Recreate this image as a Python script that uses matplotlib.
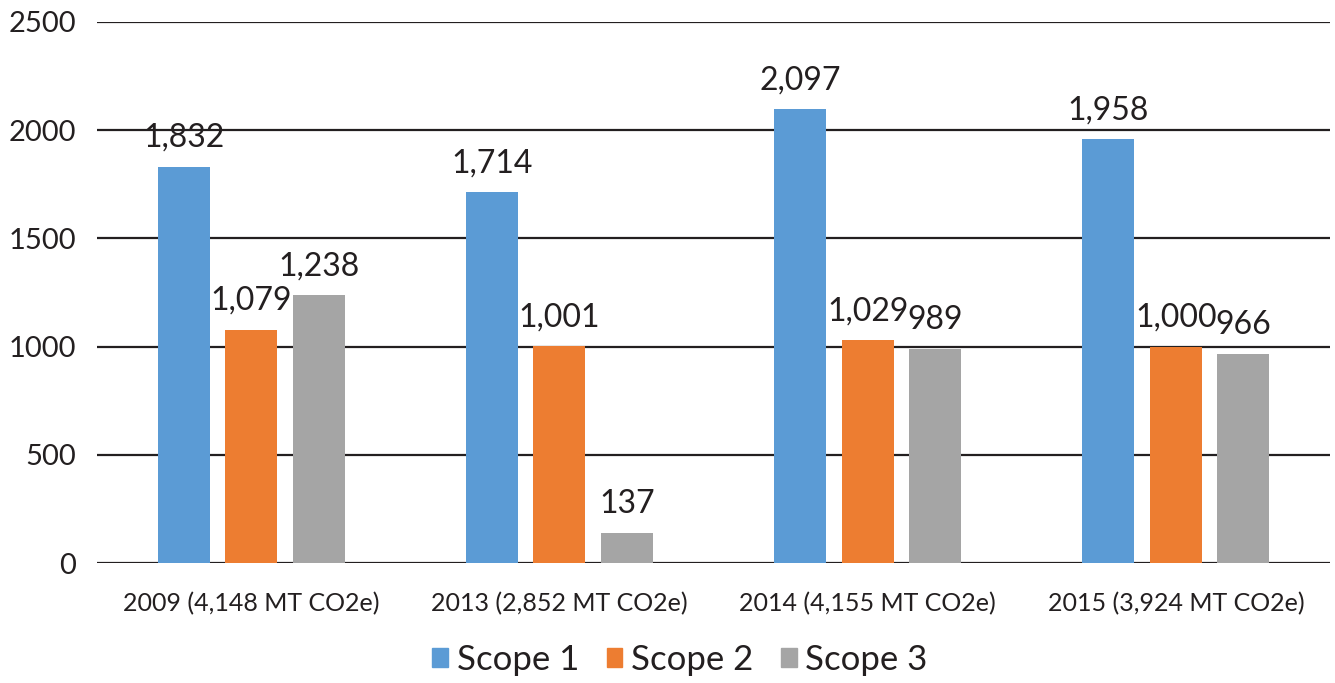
import matplotlib.pyplot as plt
import numpy as np
from matplotlib.patches import Patch

# Emissions by scope for each reporting year
years = ['2009 (4,148 MT CO2e)', '2013 (2,852 MT CO2e)',
         '2014 (4,155 MT CO2e)', '2015 (3,924 MT CO2e)']
scope1 = [1832, 1714, 2097, 1958]
scope2 = [1079, 1001, 1029, 1000]
scope3 = [1238, 137, 989, 966]

series = [('Scope 1', scope1, '#5b9bd5'),
          ('Scope 2', scope2, '#ed7d31'),
          ('Scope 3', scope3, '#a5a5a5')]

plt.rcParams['font.family'] = ['Lato', 'DejaVu Sans']
ink = '#231f20'

fig = plt.figure(figsize=(13.35, 6.83), dpi=100)
ax = fig.add_axes([97 / 1335, 120 / 683, 1233 / 1335, 541 / 683])

x = np.arange(len(years))
width = 0.168
step = 0.219

for k, (name, vals, color) in enumerate(series):
    pos = x + (k - 1) * step
    ax.bar(pos, vals, width, color=color, zorder=3, label=name)
    for px, v in zip(pos, vals):
        ax.annotate('{:,}'.format(v), (px, v), xytext=(0, 10),
                    textcoords='offset points', ha='center', va='bottom',
                    fontsize=23, color=ink, zorder=4)

ax.set_xlim(-0.5, 3.5)
ax.set_ylim(0, 2500)
ax.set_yticks(range(0, 2501, 500))
ax.set_xticks(x)
ax.set_xticklabels(years, fontsize=18, color=ink)
ax.tick_params(axis='y', labelsize=21, colors=ink, length=0, pad=15)
ax.tick_params(axis='x', length=0, pad=21)
ax.yaxis.grid(True, color=ink, linewidth=1.6, zorder=0)
for s in ax.spines.values():
    s.set_visible(False)

handles = [Patch(color=c) for _, _, c in series]
fig.legend(handles, [n for n, _, _ in series], loc='center',
           bbox_to_anchor=(680 / 1335, 1 - 660 / 683), ncol=3, frameon=False,
           fontsize=25, handlelength=0.45, handleheight=0.45,
           handletextpad=0.25, columnspacing=0.8, labelcolor=ink)

fig.savefig('out.png', dpi=100)
